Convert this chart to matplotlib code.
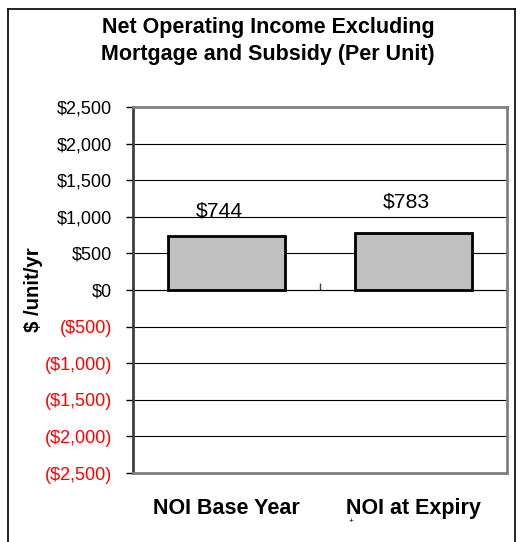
import matplotlib.pyplot as plt
from matplotlib.lines import Line2D

plt.rcParams['font.family'] = ['Liberation Sans', 'DejaVu Sans']

# Data
categories = ["NOI Base Year", "NOI at Expiry"]
noi_values = [744, 783]
label_offsets = [18, 22]  # points above bar top for the value labels
y_ticks = list(range(-2500, 2501, 500))


def money(v):
    if v < 0:
        return f"(${-v:,})"
    return f"${v:,}"


fig = plt.figure(figsize=(5.22, 5.42), dpi=100)

# outer chart frame (open at the bottom, like the cropped screenshot)
frame_kw = dict(color='black', lw=1.2, transform=fig.transFigure)
fl, fr, ft = 8 / 522, 515 / 522, 1 - 9 / 542
fig.add_artist(Line2D([fl, fl], [0, ft], **frame_kw))
fig.add_artist(Line2D([fl, fr], [ft, ft], **frame_kw))
fig.add_artist(Line2D([fr, fr], [0, ft], **frame_kw))

ax = fig.add_axes([133 / 522, 1 - 473 / 542, 374 / 522, 366 / 542])

x = list(range(len(categories)))
bars = ax.bar(x, noi_values, width=0.63, color='#c0c0c0', edgecolor='black',
              linewidth=2, zorder=3)

for xi, v, off in zip(x, noi_values, label_offsets):
    ax.annotate(money(v), (xi, v), xytext=(-5, off), textcoords='offset points',
                ha='center', va='center', fontsize=15.2, zorder=4)

ax.set_xlim(-0.5, 1.5)
ax.set_ylim(-2500, 2500)

ax.set_yticks(y_ticks)
ax.set_yticklabels([money(v) for v in y_ticks])
for lab, v in zip(ax.get_yticklabels(), y_ticks):
    lab.set_color('red' if v < 0 else 'black')
ax.tick_params(axis='y', labelsize=13, length=5, width=1, direction='out', pad=10)

ax.yaxis.grid(True, color='black', lw=0.8, zorder=1)
ax.set_axisbelow(True)

# category labels at the bottom of the plot area
ax.set_xticks(x)
ax.set_xticklabels(categories, fontweight='bold', fontsize=15.5)
ax.tick_params(axis='x', length=0, pad=18)

# plot-area border
for side in ['top', 'right', 'bottom']:
    ax.spines[side].set_color('#808080')
    ax.spines[side].set_linewidth(2)
ax.spines['left'].set_color('#404040')
ax.spines['left'].set_linewidth(2)

# category axis crossing at zero
sec = ax.secondary_xaxis(0.5)
sec.set_xticks([-0.5, 0.5, 1.5])
sec.set_xticklabels([])
sec.tick_params(length=5, width=1, direction='out', color='#404040')
sec.spines['bottom'].set_linewidth(1.5)
sec.spines['bottom'].set_color('black')

ax.set_ylabel("$ /unit/yr", fontweight='bold', fontsize=14.7)
ax.yaxis.set_label_coords(-0.24, 0.5)

fig.text(268 / 522, 1 - 41 / 542,
         "Net Operating Income Excluding\nMortgage and Subsidy (Per Unit)",
         ha='center', va='center', fontweight='bold', fontsize=15.5,
         linespacing=1.4)

fig.text(351 / 522, 1 - 522 / 542, "+", fontsize=6, ha='center', va='center')

fig.savefig("out.png", dpi=100)
